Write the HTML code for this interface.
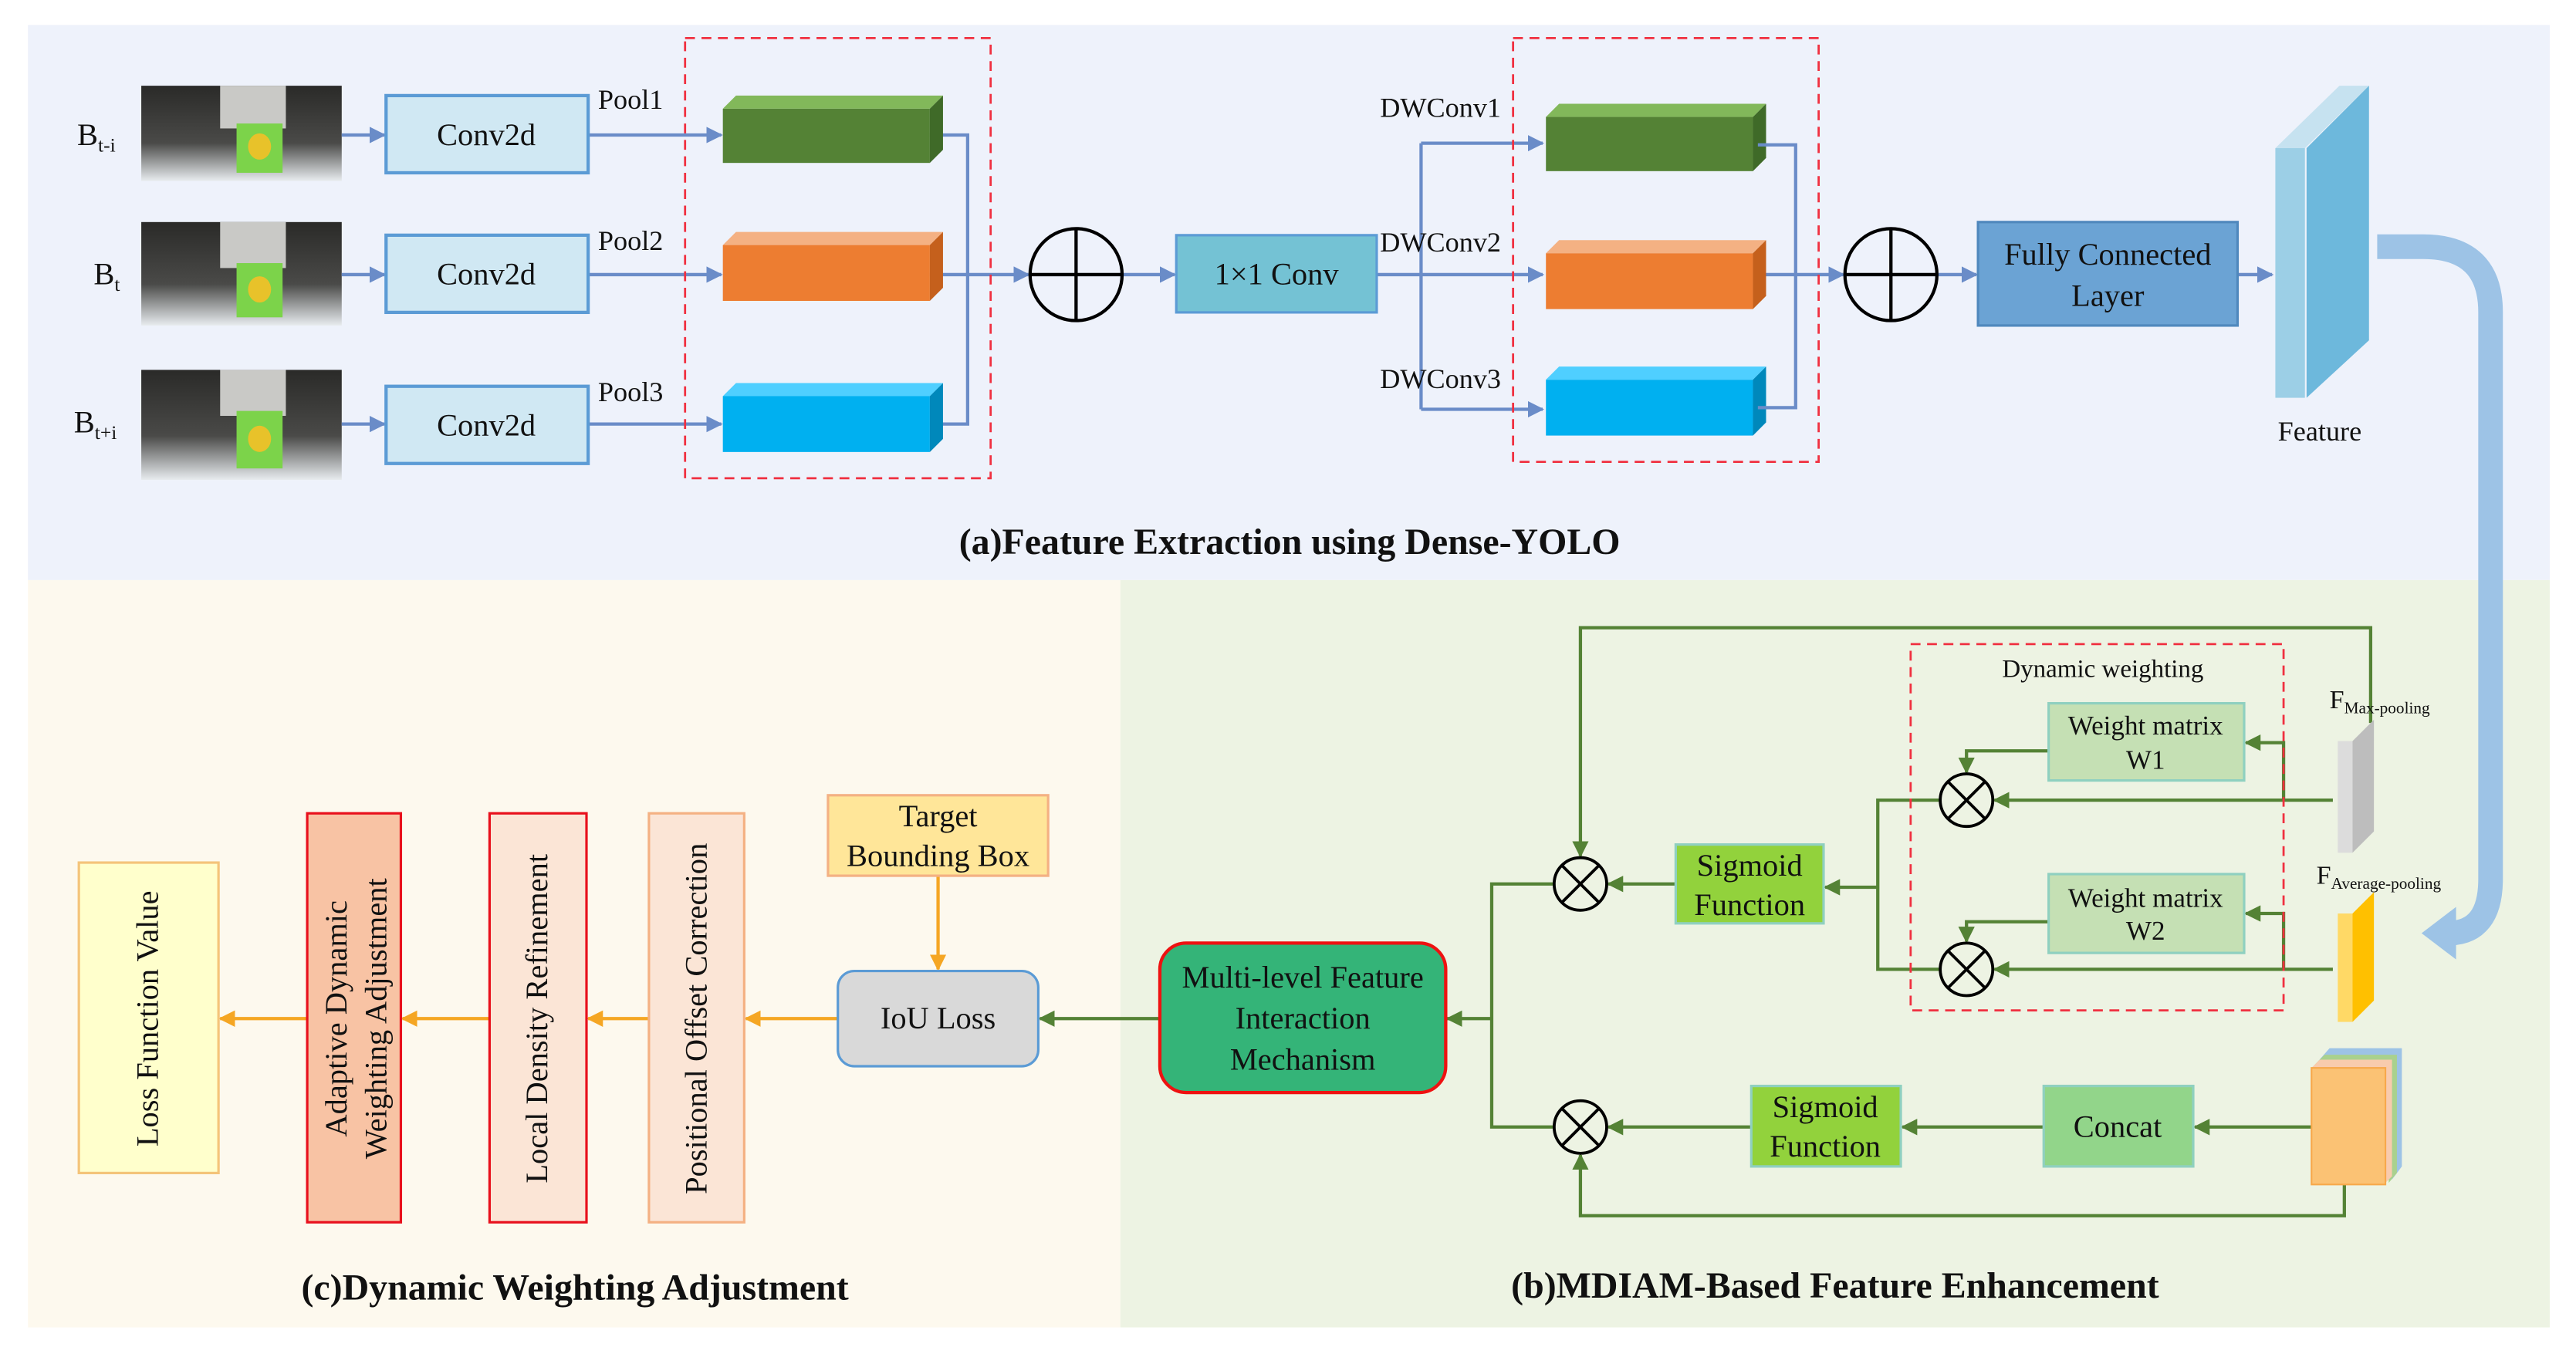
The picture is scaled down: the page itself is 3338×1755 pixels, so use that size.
<!DOCTYPE html>
<html><head><meta charset="utf-8"><style>
html,body{margin:0;padding:0;background:#fff;}
svg{display:block;}
text{font-family:"Liberation Serif",serif;fill:#111;}
</style></head><body>
<svg width="3338" height="1755" viewBox="0 0 1568 824" xmlns="http://www.w3.org/2000/svg">
<defs>
<marker id="ab" markerWidth="10" markerHeight="10" refX="9" refY="5" orient="auto" markerUnits="userSpaceOnUse"><path d="M0,0 L10,5 L0,10 Z" fill="#6a8cc8"/></marker>
<marker id="ag" markerWidth="10" markerHeight="10" refX="9" refY="5" orient="auto" markerUnits="userSpaceOnUse"><path d="M0,0 L10,5 L0,10 Z" fill="#548235"/></marker>
<marker id="ao" markerWidth="10" markerHeight="10" refX="9" refY="5" orient="auto" markerUnits="userSpaceOnUse"><path d="M0,0 L10,5 L0,10 Z" fill="#f5a623"/></marker>
<linearGradient id="ph" x1="0" y1="0" x2="0" y2="1"><stop offset="0" stop-color="#2a2a28"/><stop offset="0.6" stop-color="#4a4a48"/><stop offset="1" stop-color="#e8ecef"/></linearGradient>
</defs>
<rect x="17" y="15" width="1535" height="338" fill="#eef2fb"/>
<rect x="17" y="353" width="665" height="455" fill="#fdf9ee"/>
<rect x="682" y="353" width="870" height="455" fill="#edf3e3"/>

<g>
<g><rect x="86" y="52" width="122" height="58" fill="url(#ph)"/><rect x="134" y="52" width="40" height="26" fill="#c9c9c6"/><rect x="144" y="75" width="28" height="30" fill="#7cd34a"/><ellipse cx="158" cy="89" rx="7" ry="8" fill="#e8c22a"/></g>
<g><rect x="86" y="135" width="122" height="63" fill="url(#ph)"/><rect x="134" y="135" width="40" height="28" fill="#c9c9c6"/><rect x="144" y="160" width="28" height="33" fill="#7cd34a"/><ellipse cx="158" cy="176" rx="7" ry="8" fill="#e8c22a"/></g>
<g><rect x="86" y="225" width="122" height="67" fill="url(#ph)"/><rect x="134" y="225" width="40" height="28" fill="#c9c9c6"/><rect x="144" y="250" width="28" height="35" fill="#7cd34a"/><ellipse cx="158" cy="267" rx="7" ry="8" fill="#e8c22a"/></g>
</g>
<text x="47" y="88" font-size="19">B<tspan font-size="12" dy="4">t-i</tspan></text>
<text x="57" y="173" font-size="19">B<tspan font-size="12" dy="4">t</tspan></text>
<text x="45" y="263" font-size="19">B<tspan font-size="12" dy="4">t+i</tspan></text>

<g stroke="#6a8cc8" stroke-width="2" fill="none">
<line x1="208" y1="82" x2="234" y2="82" marker-end="url(#ab)"/>
<line x1="208" y1="167" x2="234" y2="167" marker-end="url(#ab)"/>
<line x1="208" y1="258" x2="234" y2="258" marker-end="url(#ab)"/>
<line x1="358" y1="82" x2="439" y2="82" marker-end="url(#ab)"/>
<line x1="358" y1="167" x2="439" y2="167" marker-end="url(#ab)"/>
<line x1="358" y1="258" x2="439" y2="258" marker-end="url(#ab)"/>
<polyline points="566,82 589,82 589,258 566,258"/>
<line x1="566" y1="167" x2="626" y2="167" marker-end="url(#ab)"/>
<line x1="683" y1="167" x2="715" y2="167" marker-end="url(#ab)"/>
<polyline points="838,167 865,167"/>
<line x1="865" y1="87" x2="865" y2="249"/>
<line x1="865" y1="87" x2="939" y2="87" marker-end="url(#ab)"/>
<line x1="865" y1="249" x2="939" y2="249" marker-end="url(#ab)"/>
<line x1="865" y1="167" x2="939" y2="167" marker-end="url(#ab)"/>
<line x1="1070" y1="167" x2="1122" y2="167" marker-end="url(#ab)"/>
<line x1="1180" y1="167" x2="1203" y2="167" marker-end="url(#ab)"/>
<line x1="1362" y1="167" x2="1383" y2="167" marker-end="url(#ab)"/>
</g>

<g fill="#d0e8f3" stroke="#5b9bd5" stroke-width="2">
<rect x="235" y="58" width="123" height="47"/>
<rect x="235" y="143" width="123" height="47"/>
<rect x="235" y="235" width="123" height="47"/>
</g>
<g font-size="19" text-anchor="middle">
<text x="296" y="88">Conv2d</text><text x="296" y="173">Conv2d</text><text x="296" y="265">Conv2d</text>
</g>
<g font-size="17"><text x="364" y="66">Pool1</text><text x="364" y="152">Pool2</text><text x="364" y="244">Pool3</text>
<text x="840" y="71">DWConv1</text><text x="840" y="153">DWConv2</text><text x="840" y="236">DWConv3</text></g>

<g>
<polygon points="440,66 448,58 574,58 566,66" fill="#82b85a"/><rect x="440" y="66" width="126" height="33" fill="#548235"/><polygon points="566,66 574,58 574,91 566,99" fill="#3f6a28"/>
<polygon points="440,149 448,141 574,141 566,149" fill="#f4b183"/><rect x="440" y="149" width="126" height="34" fill="#ed7d31"/><polygon points="566,149 574,141 574,175 566,183" fill="#c5601c"/>
<polygon points="440,241 448,233 574,233 566,241" fill="#4fcfff"/><rect x="440" y="241" width="126" height="34" fill="#00b0f0"/><polygon points="566,241 574,233 574,267 566,275" fill="#0088bb"/>
</g>
<g transform="translate(501,5)">
<polygon points="440,66 448,58 574,58 566,66" fill="#82b85a"/><rect x="440" y="66" width="126" height="33" fill="#548235"/><polygon points="566,66 574,58 574,91 566,99" fill="#3f6a28"/>
<polygon points="440,149 448,141 574,141 566,149" fill="#f4b183"/><rect x="440" y="149" width="126" height="34" fill="#ed7d31"/><polygon points="566,149 574,141 574,175 566,183" fill="#c5601c"/>
</g>
<g transform="translate(501,-10)">
<polygon points="440,241 448,233 574,233 566,241" fill="#4fcfff"/><rect x="440" y="241" width="126" height="34" fill="#00b0f0"/><polygon points="566,241 574,233 574,267 566,275" fill="#0088bb"/>
</g>
<g stroke="#6a8cc8" stroke-width="2" fill="none"><polyline points="1070,88 1093,88 1093,248 1070,248"/></g>

<rect x="417" y="23" width="186" height="268" fill="none" stroke="#f03040" stroke-width="1.3" stroke-dasharray="6,4"/>
<rect x="921" y="23" width="186" height="258" fill="none" stroke="#f03040" stroke-width="1.3" stroke-dasharray="6,4"/>

<g fill="none" stroke="#000" stroke-width="2">
<circle cx="655" cy="167" r="28"/><line x1="627" y1="167" x2="683" y2="167"/><line x1="655" y1="139" x2="655" y2="195"/>
<circle cx="1151" cy="167" r="28"/><line x1="1123" y1="167" x2="1179" y2="167"/><line x1="1151" y1="139" x2="1151" y2="195"/>
</g>
<rect x="716" y="143" width="122" height="47" fill="#74c2d4" stroke="#5b9bd5" stroke-width="1.5"/>
<text x="777" y="173" font-size="19" text-anchor="middle">1×1 Conv</text>
<rect x="1204" y="135" width="158" height="63" fill="#6ba3d4" stroke="#4f88bd" stroke-width="1.5"/>
<text x="1283" y="161" font-size="19" text-anchor="middle">Fully Connected</text>
<text x="1283" y="186" font-size="19" text-anchor="middle">Layer</text>

<polygon points="1385,90 1403,90 1442,52 1424,52" fill="#c6e2f0"/>
<rect x="1385" y="90" width="18" height="152" fill="#9ccfe6"/>
<polygon points="1404,90 1442,52 1442,207 1404,242" fill="#6db8dc"/>
<text x="1412" y="268" font-size="17" text-anchor="middle">Feature</text>

<path d="M1447,150 L1475,150 Q1516,150 1516,190 L1516,535 Q1516,568 1490,568" fill="none" stroke="#9dc3e6" stroke-width="15"/>
<polygon points="1474,568 1495,552 1495,584" fill="#9dc3e6"/>

<text x="785" y="337" font-size="22.5" font-weight="bold" text-anchor="middle">(a)Feature Extraction using Dense-YOLO</text>

<g stroke="#548235" stroke-width="2" fill="none">
<polyline points="1443,440 1443,382 962,382 962,521" marker-end="url(#ag)"/>
<line x1="1420" y1="487" x2="1214" y2="487" marker-end="url(#ag)"/>
<polyline points="1390,487 1390,452 1367,452" marker-end="url(#ag)"/>
<polyline points="1247,457 1197,457 1197,470" marker-end="url(#ag)"/>
<line x1="1420" y1="590" x2="1214" y2="590" marker-end="url(#ag)"/>
<polyline points="1390,590 1390,556 1367,556" marker-end="url(#ag)"/>
<polyline points="1247,561 1197,561 1197,573" marker-end="url(#ag)"/>
<polyline points="1181,487 1143,487 1143,590 1181,590"/>
<line x1="1143" y1="540" x2="1111" y2="540" marker-end="url(#ag)"/>
<line x1="1020" y1="538" x2="979" y2="538" marker-end="url(#ag)"/>
<polyline points="946,538 908,538 908,686 946,686"/>
<line x1="908" y1="620" x2="881" y2="620" marker-end="url(#ag)"/>
<line x1="1407" y1="686" x2="1336" y2="686" marker-end="url(#ag)"/>
<line x1="1244" y1="686" x2="1158" y2="686" marker-end="url(#ag)"/>
<line x1="1066" y1="686" x2="979" y2="686" marker-end="url(#ag)"/>
<polyline points="1427,720 1427,740 962,740 962,703" marker-end="url(#ag)"/>
<line x1="706" y1="620" x2="633" y2="620" marker-end="url(#ag)"/>
</g>
<rect x="1163" y="392" width="227" height="223" fill="none" stroke="#f03040" stroke-width="1.3" stroke-dasharray="6,4"/>
<text x="1280" y="412" font-size="15.5" text-anchor="middle">Dynamic weighting</text>
<g fill="#c5e0b4" stroke="#8fd0c0" stroke-width="1.5">
<rect x="1247" y="428" width="119" height="47"/><rect x="1247" y="532" width="119" height="48"/>
</g>
<g font-size="16.5" text-anchor="middle"><text x="1306" y="447">Weight matrix</text><text x="1306" y="468">W1</text>
<text x="1306" y="552">Weight matrix</text><text x="1306" y="572">W2</text></g>
<g fill="#92d23c" stroke="#8fd0c0" stroke-width="1.5">
<rect x="1020" y="514" width="90" height="48"/><rect x="1066" y="661" width="91" height="49"/>
</g>
<rect x="1244" y="661" width="91" height="49" fill="#92d58a" stroke="#8fd0c0" stroke-width="1.5"/>
<g font-size="19" text-anchor="middle"><text x="1065" y="533">Sigmoid</text><text x="1065" y="557">Function</text>
<text x="1111" y="680">Sigmoid</text><text x="1111" y="704">Function</text><text x="1289" y="692">Concat</text></g>
<g fill="none" stroke="#000" stroke-width="1.8">
<circle cx="1197" cy="487" r="16"/><line x1="1186" y1="476" x2="1208" y2="498"/><line x1="1208" y1="476" x2="1186" y2="498"/>
<circle cx="1197" cy="590" r="16"/><line x1="1186" y1="579" x2="1208" y2="601"/><line x1="1208" y1="579" x2="1186" y2="601"/>
<circle cx="962" cy="538" r="16"/><line x1="951" y1="527" x2="973" y2="549"/><line x1="973" y1="527" x2="951" y2="549"/>
<circle cx="962" cy="686" r="16"/><line x1="951" y1="675" x2="973" y2="697"/><line x1="973" y1="675" x2="951" y2="697"/>
</g>
<rect x="1423" y="451" width="9" height="68" fill="#dcdcdc"/><polygon points="1432,451 1445,438 1445,506 1432,519" fill="#bdbdbd"/>
<rect x="1423" y="556" width="9" height="66" fill="#ffd966"/><polygon points="1432,556 1445,543 1445,609 1432,622" fill="#ffc000"/>
<text x="1418" y="431" font-size="16">F<tspan font-size="10" dy="3">Max-pooling</tspan></text>
<text x="1410" y="538" font-size="16">F<tspan font-size="10" dy="3">Average-pooling</tspan></text>
<polygon points="1411,646 1418,638 1462,638 1462,710 1456,718 1456,646" fill="#9dc3e6"/>
<polygon points="1409,648 1415,642 1459,642 1459,714 1454,720 1454,648" fill="#a9d18e"/>
<polygon points="1407,650 1412,645 1456,645 1456,716 1451,721" fill="#f8cbad"/>
<rect x="1407" y="650" width="45" height="71" fill="#fbc274" stroke="#f7a84a" stroke-width="1"/>
<rect x="706" y="574" width="174" height="91" rx="16" fill="#34b478" stroke="#ee1111" stroke-width="2"/>
<g font-size="19" text-anchor="middle"><text x="793" y="601">Multi-level Feature</text><text x="793" y="626">Interaction</text><text x="793" y="651">Mechanism</text></g>

<text x="1117" y="790" font-size="22.5" font-weight="bold" text-anchor="middle">(b)MDIAM-Based Feature Enhancement</text>

<g stroke="#f5a623" stroke-width="2" fill="none">
<line x1="571" y1="533" x2="571" y2="590" marker-end="url(#ao)"/>
<line x1="510" y1="620" x2="454" y2="620" marker-end="url(#ao)"/>
<line x1="395" y1="620" x2="358" y2="620" marker-end="url(#ao)"/>
<line x1="298" y1="620" x2="245" y2="620" marker-end="url(#ao)"/>
<line x1="187" y1="620" x2="134" y2="620" marker-end="url(#ao)"/>
</g>
<rect x="510" y="591" width="122" height="58" rx="10" fill="#d9d9d9" stroke="#5b9bd5" stroke-width="1.5"/>
<text x="571" y="626" font-size="19" text-anchor="middle">IoU Loss</text>
<rect x="504" y="484" width="134" height="49" fill="#ffe699" stroke="#f4b183" stroke-width="1.5"/>
<text x="571" y="503" font-size="19" text-anchor="middle">Target</text><text x="571" y="527" font-size="19" text-anchor="middle">Bounding Box</text>
<rect x="395" y="495" width="58" height="249" fill="#fbe5d6" stroke="#f4b183" stroke-width="1.5"/>
<rect x="298" y="495" width="59" height="249" fill="#fbe5d6" stroke="#e8101c" stroke-width="1.5"/>
<rect x="187" y="495" width="57" height="249" fill="#f8c3a4" stroke="#e8101c" stroke-width="1.5"/>
<rect x="48" y="525" width="85" height="189" fill="#ffffcc" stroke="#f4c47a" stroke-width="1.5"/>
<g font-size="19" text-anchor="middle">
<text transform="translate(430,620) rotate(-90)">Positional Offset Correction</text>
<text transform="translate(333,620) rotate(-90)">Local Density Refinement</text>
<text transform="translate(211,620) rotate(-90)">Adaptive Dynamic</text>
<text transform="translate(235,620) rotate(-90)">Weighting Adjustment</text>
<text transform="translate(96,620) rotate(-90)">Loss Function Value</text>
</g>
<text x="350" y="791" font-size="22.5" font-weight="bold" text-anchor="middle">(c)Dynamic Weighting Adjustment</text>
</svg>
</body></html>
